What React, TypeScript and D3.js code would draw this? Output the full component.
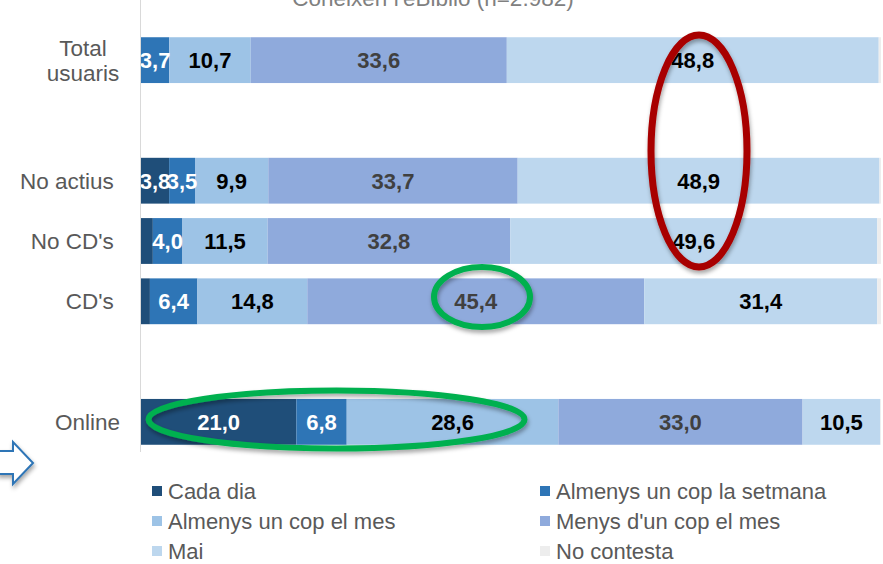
import React from "react";
import * as d3 from "d3";

const categories = ["Total usuaris", "", "No actius\u00a0", "No CD's\u00a0", "CD's\u00a0", "", "Online"];
const seriesNames = [
  "Cada dia",
  "Almenys un cop la setmana",
  "Almenys un cop el mes",
  "Menys d'un cop el mes",
  "Mai",
  "No contesta",
];
const cadaDia = [0, 0, 3.8, 1.6, 1.2, 0, 21.0];
const setmana = [3.7, 0, 3.5, 4.0, 6.4, 0, 6.8];
const elMes = [10.7, 0, 9.9, 11.5, 14.8, 0, 28.6];
const menys = [33.6, 0, 33.7, 32.8, 45.4, 0, 33.0];
const mai = [48.8, 0, 48.9, 49.6, 31.4, 0, 10.5];
const noContesta = [0.3, 0, 0.2, 0.5, 0.5, 0, 0.1];
const title = "Coneixen l'eBiblio (n=2.982)";

const colors = ["#1F4E79", "#2E75B6", "#9DC3E6", "#8FAADC", "#BDD7EE", "#EDEDED"];
const labelColors = ["#ffffff", "#ffffff", "#000000", "#404040", "#000000", "#000000"];

const W = 883;
const H = 564;

export default function App() {
  const seriesValues = [cadaDia, setmana, elMes, menys, mai, noContesta];
  const rows = categories.map((c, i) => {
    const r: any = { key: String(i), name: c };
    seriesNames.forEach((s, j) => (r[s] = seriesValues[j][i]));
    return r;
  });
  const drawn = rows.filter((r) => r.name !== "");
  const stack = d3.stack<any>().keys(seriesNames).offset(d3.stackOffsetExpand);
  const layers = stack(drawn);

  const x = d3.scaleLinear().domain([0, 1]).range([141, 881]);
  const y = d3
    .scaleBand<string>()
    .domain(rows.map((r) => r.key))
    .range([30, 452])
    .paddingInner(0.24)
    .paddingOuter(0.12);

  const font = "Arial, 'Liberation Sans', sans-serif";

  return (
    <svg width={W} height={H} style={{ position: "absolute", left: 0, top: 0 }}>
      <defs>
        <filter id="sh" x="-20%" y="-20%" width="140%" height="140%">
          <feDropShadow dx="1" dy="3" stdDeviation="2" floodColor="#000" floodOpacity="0.35" />
        </filter>
      </defs>
      <rect width={W} height={H} fill="#fff" />
      <text x={433} y={6} textAnchor="middle" fontFamily={font} fontSize={22.5} fill="#808080">
        {title}
      </text>
      {layers.map((layer, li) => (
        <g key={layer.key}>
          {layer.map((d: any, i: number) => (
            <rect
              key={i}
              x={x(d[0])}
              y={y(d.data.key)}
              width={Math.max(0, x(d[1]) - x(d[0]))}
              height={y.bandwidth()}
              fill={colors[li]}
            />
          ))}
        </g>
      ))}
      {layers.map((layer, li) => (
        <g key={"l" + layer.key}>
          {layer.map((d: any, i: number) => {
            const v = d.data[layer.key];
            if (li === 5 || v < 2) return null;
            return (
              <text
                key={i}
                x={(x(d[0]) + x(d[1])) / 2}
                y={(y(d.data.key) as number) + y.bandwidth() / 2}
                dy="0.36em"
                textAnchor="middle"
                fontFamily={font}
                fontWeight="bold"
                fontSize={22}
                fill={labelColors[li]}
              >
                {d3.format(".1f")(v).replace(".", ",")}
              </text>
            );
          })}
        </g>
      ))}
      <line x1={140.5} x2={140.5} y1={0} y2={452} stroke="#D9D9D9" strokeWidth={1} />
      {rows.map((r) => {
        if (!r.name) return null;
        const cy = (y(r.key) as number) + y.bandwidth() / 2;
        const multi = r.name === "Total usuaris";
        const parts = multi ? ["Total", "usuaris"] : [r.name];
        const lx = multi ? 83 : 120;
        return (
          <text
            key={r.key}
            x={lx}
            y={cy}
            textAnchor={multi ? "middle" : "end"}
            fontFamily={font}
            fontSize={22.5}
            fill="#595959"
          >
            {parts.map((p, k) => (
              <tspan key={k} x={lx} dy={k === 0 ? `${0.36 - (parts.length - 1) * 0.55}em` : "1.1em"}>
                {p}
              </tspan>
            ))}
          </text>
        );
      })}
      {/* ellipses */}
      <ellipse cx={699} cy={151} rx={48} ry={116} fill="none" stroke="#A80000" strokeWidth={7} filter="url(#sh)" />
      <ellipse cx={482} cy={297} rx={48} ry={30} fill="none" stroke="#00B050" strokeWidth={6} filter="url(#sh)" />
      <ellipse cx={336.5} cy={419.5} rx={188} ry={29} fill="none" stroke="#00B050" strokeWidth={6} filter="url(#sh)" />
      {/* arrow */}
      <path
        d="M-2,451 L13,451 L13,442 L33,463 L13,484 L13,474 L-2,474 Z"
        fill="#fff"
        stroke="#2E75B6"
        strokeWidth={2}
        filter="url(#sh)"
      />
      {/* legend */}
      {seriesNames.map((s, i) => {
        const col = i % 2;
        const row = Math.floor(i / 2);
        const lx = col === 0 ? 152 : 540;
        const ly = 491 + row * 30;
        return (
          <g key={s}>
            <rect x={lx} y={ly - 5} width={10} height={10} fill={colors[i]} />
            <text x={lx + 16} y={ly} dy="0.36em" fontFamily={font} fontSize={22} fill="#595959">
              {s}
            </text>
          </g>
        );
      })}
    </svg>
  );
}
